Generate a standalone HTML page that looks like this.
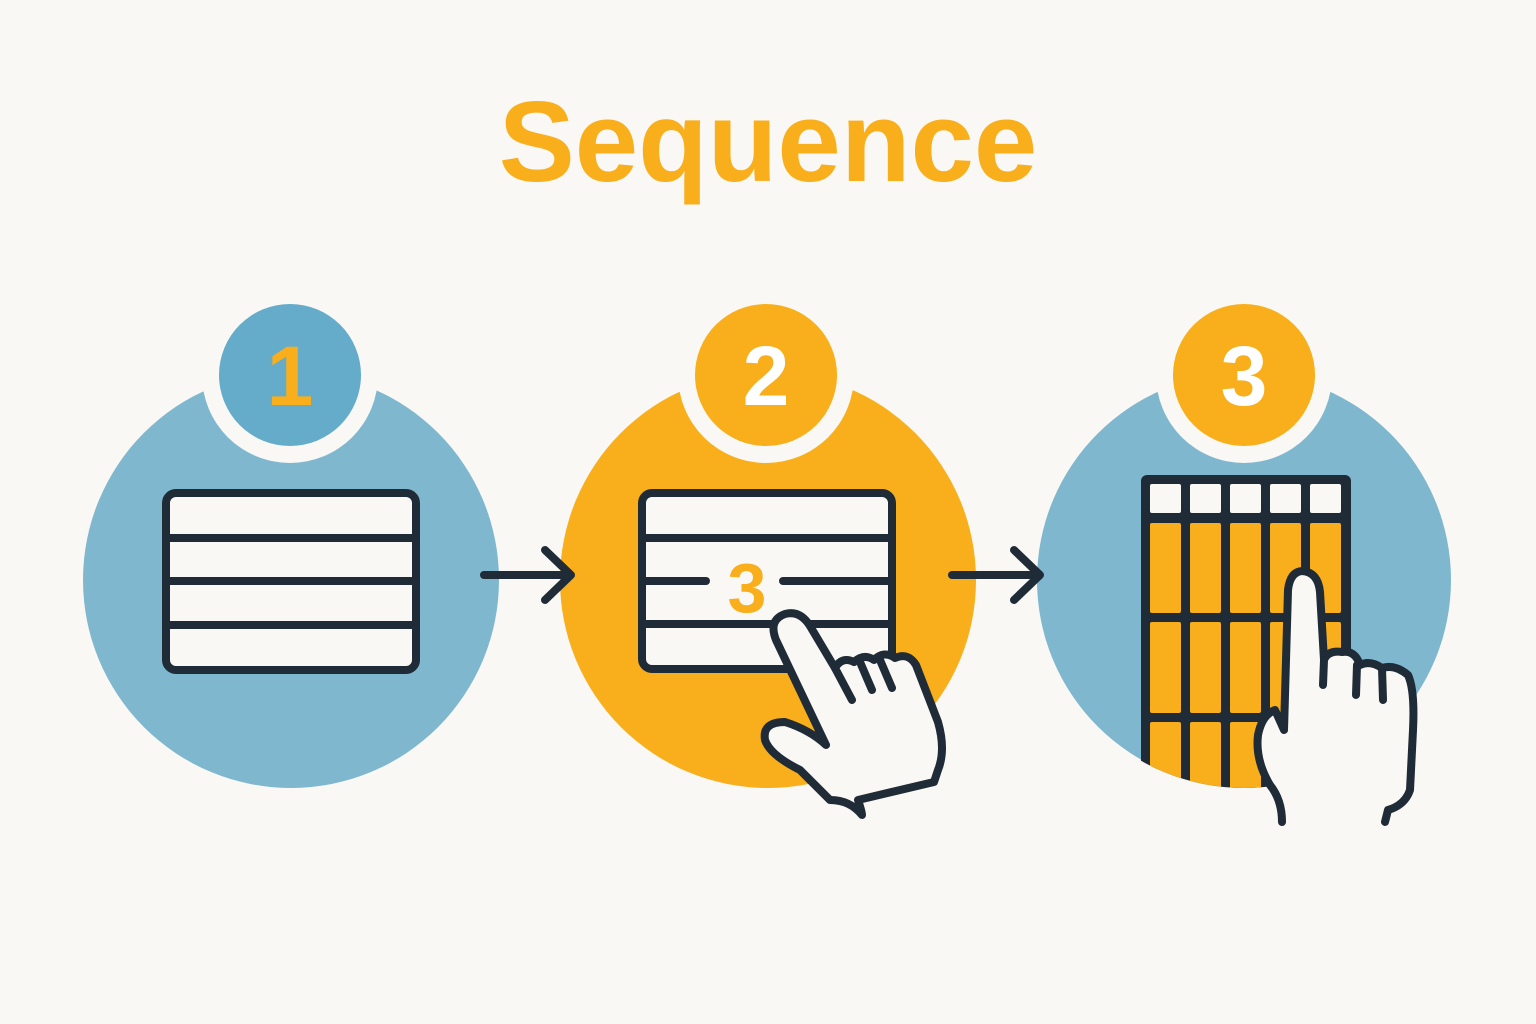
<!DOCTYPE html>
<html><head><meta charset="utf-8"><style>
html,body{margin:0;padding:0;background:#f9f8f4;}
svg{display:block}
</style></head><body>
<svg width="1536" height="1024" viewBox="0 0 1536 1024" xmlns="http://www.w3.org/2000/svg">
<rect width="1536" height="1024" fill="#f9f8f4"/>
<text x="768" y="181" text-anchor="middle" font-family="Liberation Sans, sans-serif" font-weight="bold" font-size="114" fill="#f9ae1b">Sequence</text>
<defs>
<clipPath id="c3"><circle cx="1244" cy="580" r="208"/></clipPath>
</defs>
<circle cx="291" cy="580" r="208" fill="#7fb7cf"/>
<circle cx="768" cy="580" r="208" fill="#f9ae1b"/>
<circle cx="1244" cy="580" r="207" fill="#7fb7cf"/>
<circle cx="290" cy="375" r="88" fill="#f9f8f4"/>
<circle cx="290" cy="375" r="71" fill="#64acca"/>
<text x="290" y="405" text-anchor="middle" font-family="Liberation Sans, sans-serif" font-weight="bold" font-size="84" fill="#f9ae1b">1</text>
<circle cx="766" cy="375" r="88" fill="#f9f8f4"/>
<circle cx="766" cy="375" r="71" fill="#f9ae1b"/>
<text x="766" y="405" text-anchor="middle" font-family="Liberation Sans, sans-serif" font-weight="bold" font-size="84" fill="#fff">2</text>
<circle cx="1244" cy="375" r="88" fill="#f9f8f4"/>
<circle cx="1244" cy="375" r="71" fill="#f9ae1b"/>
<text x="1244" y="405" text-anchor="middle" font-family="Liberation Sans, sans-serif" font-weight="bold" font-size="84" fill="#fff">3</text>
<g stroke="#1f2b36" stroke-width="8" fill="#f9f8f4" stroke-linecap="round">
<rect x="166" y="493" width="250" height="177" rx="10"/>
<line x1="166" y1="538" x2="416" y2="538"/>
<line x1="166" y1="581" x2="416" y2="581"/>
<line x1="166" y1="625" x2="416" y2="625"/>
</g>
<g stroke="#1f2b36" stroke-width="8" fill="#f9f8f4" stroke-linecap="round">
<rect x="642" y="493" width="250" height="176" rx="10"/>
<line x1="642" y1="538" x2="892" y2="538"/>
<line x1="642" y1="581" x2="706" y2="581"/>
<line x1="783" y1="581" x2="892" y2="581"/>
<line x1="642" y1="624" x2="892" y2="624"/>
</g>
<text x="747" y="612" text-anchor="middle" font-family="Liberation Sans, sans-serif" font-weight="bold" font-size="70" fill="#f9ae1b">3</text>
<g stroke="#1f2b36" stroke-width="8" fill="none" stroke-linecap="round" stroke-linejoin="round">
<line x1="484" y1="575" x2="570" y2="575"/>
<polyline points="545,550 571,575 545,600"/>
<line x1="952" y1="575" x2="1038" y2="575"/>
<polyline points="1014,550 1040,575 1014,600"/>
</g>
<g clip-path="url(#c3)">
<rect x="1141" y="475" width="210" height="340" rx="6" fill="#1f2b36"/>
<g fill="#f9f8f4">
<rect x="1150" y="484" width="31" height="29" rx="2"/>
<rect x="1190" y="484" width="31" height="29" rx="2"/>
<rect x="1230" y="484" width="31" height="29" rx="2"/>
<rect x="1270" y="484" width="31" height="29" rx="2"/>
<rect x="1310" y="484" width="31" height="29" rx="2"/>
</g>
<g fill="#f9ae1b">
<rect x="1150" y="523" width="31" height="90" rx="2"/><rect x="1190" y="523" width="31" height="90" rx="2"/><rect x="1230" y="523" width="31" height="90" rx="2"/><rect x="1270" y="523" width="31" height="90" rx="2"/><rect x="1310" y="523" width="31" height="90" rx="2"/>
<rect x="1150" y="622" width="31" height="91" rx="2"/><rect x="1190" y="622" width="31" height="91" rx="2"/><rect x="1230" y="622" width="31" height="91" rx="2"/><rect x="1270" y="622" width="31" height="91" rx="2"/><rect x="1310" y="622" width="31" height="91" rx="2"/>
<rect x="1150" y="722" width="31" height="100" rx="2"/><rect x="1190" y="722" width="31" height="100" rx="2"/><rect x="1230" y="722" width="31" height="100" rx="2"/><rect x="1270" y="722" width="31" height="100" rx="2"/><rect x="1310" y="722" width="31" height="100" rx="2"/>
</g>
</g>
<g stroke="#1f2b36" stroke-width="8" fill="#f9f8f4" stroke-linecap="round" stroke-linejoin="round">
<path d="M826,745 L776,640 Q768,620 785,614 Q800,610 810,626 L835,668 Q842,656 854,662 Q864,653 874,660 Q884,650 895,658 Q908,652 916,665 L938,722 Q946,750 938,770 L934,782 L858,800 Q862,812 862,815 Q850,800 830,800 L800,770 Q770,755 765,740 Q762,722 785,722 Q810,730 826,745 Z"/>
<path d="M835,668 L852,700 M860,662 L872,690 M880,660 L892,688" fill="none"/>
</g>
<g stroke="#1f2b36" stroke-width="8" fill="#f9f8f4" stroke-linecap="round" stroke-linejoin="round">
<path d="M1282,822 Q1282,800 1270,785 Q1255,760 1258,735 Q1262,715 1275,710 L1284,730 L1288,590 Q1290,572 1302,571 Q1318,572 1320,592 L1324,660 Q1328,650 1342,652 Q1355,650 1360,665 Q1370,660 1382,668 Q1395,664 1408,675 Q1415,690 1413,730 L1410,790 Q1405,805 1388,810 L1385,822"/>
<path d="M1324,660 L1323,685 M1357,665 L1356,695 M1382,668 L1383,700" fill="none"/>
</g>
</svg>
</body></html>
